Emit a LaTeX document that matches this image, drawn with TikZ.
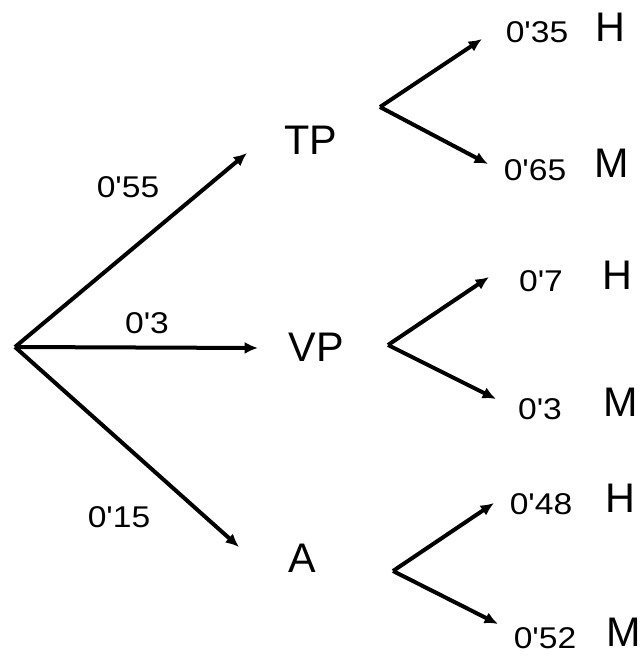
\documentclass[tikz,border=0pt]{standalone}
\usepackage{fontspec}
\setmainfont{Liberation Sans}
\usepackage{tikz}
\usetikzlibrary{arrows.meta}

\newcommand{\pn}[1]{\scalebox{1.12}[1]{#1}}

\begin{document}
\begin{tikzpicture}[x=0.75pt,y=-0.75pt]
      \def\lw{3pt}

      \tikzset{
        big/.style={font=\fontsize{31}{36}\selectfont,inner sep=0pt},
        prob/.style={font=\fontsize{22.5}{26}\selectfont,inner sep=0pt},
        arr/.style={-{Latex[length=10pt,width=9pt]},line width=\lw}
      }

      \useasboundingbox (0,0) rectangle (643,656);

      % first level
      \coordinate (root) at (15,347);
      \coordinate (tTP) at (247,153);
      \coordinate (tVP) at (258,348);
      \coordinate (tA) at (239,547);

      \node[big] (TP) at (311,140) {TP};
      \node[big] (VP) at (316,347) {VP};
      \node[big] (A) at (302,558) {A};

      \draw[arr] (root) -- (tTP);
      \draw[arr] (root) -- (tVP);
      \draw[arr] (root) -- (tA);

      \path node (p55) at (128,187) [prob] {\pn{0\textquotesingle55}};
      \path node (p3) at (147,323) [prob] {\pn{0\textquotesingle3}};
      \path node (p15) at (119,517) [prob] {\pn{0\textquotesingle15}};

      % second level
      \coordinate (fTP) at (380,107);
      \coordinate (hTP) at (482,39);
      \coordinate (mTP) at (488,164);

      \coordinate (fVP) at (388,345);
      \coordinate (hVP) at (489,277);
      \coordinate (mVP) at (496,399);

      \coordinate (fA) at (393,571);
      \coordinate (hA) at (494,503);
      \coordinate (mA) at (498,624);

      \draw[arr] (fTP) -- (hTP);
      \draw[arr] (fTP) -- (mTP);
      \draw[arr] (fVP) -- (hVP);
      \draw[arr] (fVP) -- (mVP);
      \draw[arr] (fA) -- (hA);
      \draw[arr] (fA) -- (mA);

      \path node (p35) at (537,32) [prob] {\pn{0\textquotesingle35}};
      \path node (p65) at (535,170) [prob] {\pn{0\textquotesingle65}};
      \path node (p7) at (541,281) [prob] {\pn{0\textquotesingle7}};
      \path node (p3b) at (540,409) [prob] {\pn{0\textquotesingle3}};
      \path node (p48) at (541,504) [prob] {\pn{0\textquotesingle48}};
      \path node (p52) at (545,638) [prob] {\pn{0\textquotesingle52}};

      \node[big] (hTPl) at (610,27) {H};
      \node[big] (mTPl) at (612,163) {M};
      \node[big] (hVPl) at (617,275) {H};
      \node[big] (mVPl) at (621,402) {M};
      \node[big] (hAl) at (620,498) {H};
      \node[big] (mAl) at (624,632) {M};
\end{tikzpicture}
\end{document}
